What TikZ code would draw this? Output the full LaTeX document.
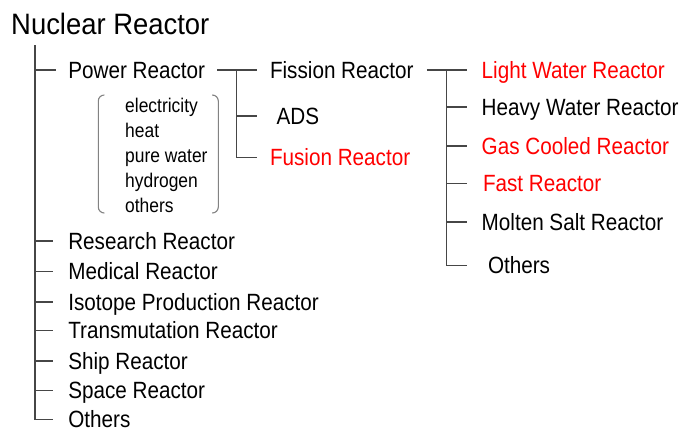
\documentclass[tikz,border=0pt]{standalone}
\usepackage{fontspec}
\setmainfont{Liberation Sans}[FakeStretch=0.88]
\newfontfamily\titlefont{Liberation Sans}[FakeStretch=0.93]
\usetikzlibrary{calc}
\definecolor{linegray}{RGB}{70,70,70}
\definecolor{brgray}{RGB}{130,130,130}
\definecolor{hired}{RGB}{255,0,0}
\begin{document}
\begin{tikzpicture}[x=1pt,y=-1pt,
  item/.style={inner sep=0pt, outer xsep=15pt, outer ysep=0pt, anchor=west,
    text height=16.8pt, text depth=0pt, font=\fontsize{23.5}{28}\selectfont},
  hot/.style={text=hired},
  usetext/.style={inner sep=0pt, anchor=base west, font=\fontsize{19.8}{24}\selectfont},
  tree/.style={draw=linegray, line width=1.1pt},
  paren/.style={draw=brgray, line width=1.1pt, rounded corners=6pt}]
\useasboundingbox (0,0) rectangle (682,432);

\node[inner sep=0pt, anchor=base west, font=\titlefont\fontsize{29.5}{34}\selectfont] (title) at (11,34) {Nuclear Reactor};

% main list
\node[item, outer xsep=12pt] (pr) at (56.3,70) {Power Reactor};
\node[item] (rr) at (53.3,241) {Research Reactor};
\node[item] (mr) at (53.3,271.5) {Medical Reactor};
\node[item] (ip) at (53.3,302) {Isotope Production Reactor};
\node[item] (tr) at (53.3,330.5) {Transmutation Reactor};
\node[item] (sr) at (53.3,361) {Ship Reactor};
\node[item] (spr) at (53.3,390.5) {Space Reactor};
\node[item] (oth) at (53.3,419.5) {Others};

% second level
\node[item, outer xsep=13.3pt] (fr) at (256.7,70) {Fission Reactor};
\node[item, outer xsep=20pt] (ads) at (256.7,116) {ADS};
\node[item, hot, outer xsep=13.3pt] (fu) at (256.7,157.5) {Fusion Reactor};

% third level
\node[item, hot] (lwr) at (466.7,70) {Light Water Reactor};
\node[item] (hwr) at (466.7,107) {Heavy Water Reactor};
\node[item, hot] (gcr) at (466.7,146) {Gas Cooled Reactor};
\node[item, hot, outer xsep=16.3pt] (fast) at (466.7,183.3) {Fast Reactor};
\node[item] (msr) at (466.7,222) {Molten Salt Reactor};
\node[item, outer xsep=21.3pt] (oth2) at (466.7,265.5) {Others};

% uses
\foreach \t [count=\i] in {electricity,heat,pure water,hydrogen,others}
  \node[usetext] (use\i) at (125,{112+25.1*(\i-1)}) {\t};

% parentheses
\draw[paren] (104,95) -- (98.3,95) -- (98.3,213) -- (104,213);
\draw[paren] (212.5,95) -- (218.3,95) -- (218.3,213) -- (212.5,213);

% trunk
\coordinate (top) at (35,45);
\draw[tree] (top) |- (oth.west);
\foreach \n in {pr,rr,mr,ip,tr,sr,spr}
  \draw[tree] (top |- \n.west) -- (\n.west);

% power -> fission/ADS/fusion
\coordinate (j1) at (236.7,70);
\draw[tree] (pr.east) -- (fr.west);
\draw[tree] (j1) |- (fu.west);
\draw[tree] (j1 |- ads.west) -- (ads.west);

% fission -> types
\coordinate (j2) at (446.7,70);
\draw[tree] (fr.east) -- (lwr.west);
\draw[tree] (j2) |- (oth2.west);
\foreach \n in {hwr,gcr,fast,msr}
  \draw[tree] (j2 |- \n.west) -- (\n.west);
\end{tikzpicture}
\end{document}
